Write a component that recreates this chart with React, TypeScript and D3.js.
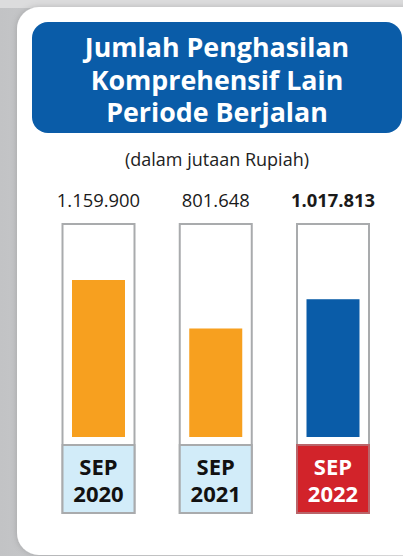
import React from "react";
import * as d3 from "d3";

const titleLines = ["Jumlah Penghasilan", "Komprehensif Lain", "Periode Berjalan"];
const subtitle = "(dalam jutaan Rupiah)";
const periods = ["SEP 2020", "SEP 2021", "SEP 2022"];
const values = [1159900, 801648, 1017813];
const valueLabels = ["1.159.900", "801.648", "1.017.813"];
const highlight = [false, false, true];

const W = 403;
const H = 556;
const FONT = "'Open Sans', 'Noto Sans', sans-serif";

export default function App() {
  const x = d3.scalePoint<string>().domain(periods).range([98.5, 333]);
  const y = d3.scaleLinear().domain([0, 1159900]).range([437, 280]);
  const tubeW = 72;
  const barW = 53;
  const tubeTop = 224;
  const labelTop = 445;
  const tubeBottom = 513;

  return (
    <svg width={W} height={H} style={{ position: "absolute", left: 0, top: 0 }} fontFamily={FONT}>
      <defs>
        <linearGradient id="bgL" x1="0" x2="1" y1="0" y2="0">
          <stop offset="0" stopColor="#c2c3c5" />
          <stop offset="1" stopColor="#e9e9ea" />
        </linearGradient>
        <filter id="sh" x="-10%" y="-10%" width="120%" height="120%">
          <feDropShadow dx="0" dy="0" stdDeviation="3" floodColor="#000" floodOpacity="0.18" />
        </filter>
      </defs>
      <rect x={0} y={0} width={W} height={H} fill="url(#bgL)" />
      <rect x={0} y={0} width={W} height={8} fill="#dcdcdd" />
      <rect x={17} y={7} width={W + 30} height={548} rx={22} fill="#ffffff" filter="url(#sh)" />

      <rect x={32} y={22} width={370} height={111} rx={16} fill="#0a5ca8" />
      <text x={217} y={57} textAnchor="middle" fill="#fff" fontWeight={700} fontSize={26.8}>
        {titleLines.map((t, i) => (
          <tspan key={t} x={217} dy={i === 0 ? 0 : 32.5}>
            {t}
          </tspan>
        ))}
      </text>
      <text x={217} y={166} textAnchor="middle" fill="#222" fontSize={18}>
        {subtitle}
      </text>

      {periods.map((p, i) => {
        const cx = x(p)!;
        const [l1, l2] = p.split(" ");
        return (
          <g key={p}>
            <text x={cx} y={207} textAnchor="middle" fill="#1a1a1a" fontSize={18.4} fontWeight={highlight[i] ? 700 : 400}>
              {valueLabels[i]}
            </text>
            <rect x={cx - tubeW / 2} y={tubeTop} width={tubeW} height={tubeBottom - tubeTop} fill="#fff" stroke="#a9abad" strokeWidth={2} />
            <rect x={cx - barW / 2} y={y(values[i])} width={barW} height={y(0) - y(values[i])} fill={highlight[i] ? "#0a5ca8" : "#f7a01f"} />
            <rect x={cx - tubeW / 2} y={labelTop} width={tubeW} height={tubeBottom - labelTop} fill={highlight[i] ? "#d2232a" : "#d2ecf9"} stroke={highlight[i] ? "#b9656a" : "#a9abad"} strokeWidth={2} />
            <text x={cx} y={475} textAnchor="middle" fontSize={22} fontWeight={700} fill={highlight[i] ? "#fff" : "#111"}>
              <tspan x={cx} dy={0}>{l1}</tspan>
              <tspan x={cx} dy={27}>{l2}</tspan>
            </text>
          </g>
        );
      })}
    </svg>
  );
}
